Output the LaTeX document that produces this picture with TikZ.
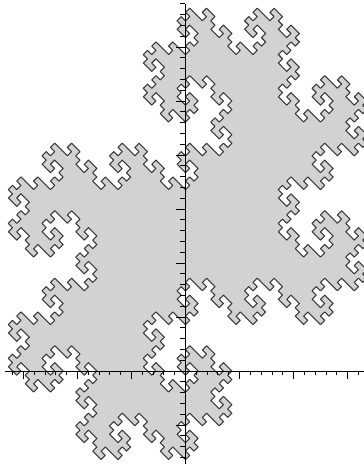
\documentclass[tikz,border=0pt]{standalone}
\definecolor{dcfill}{HTML}{D1D2D4}
\definecolor{dcline}{HTML}{3A3A3C}
\newcount\dcm \newcount\dcn \newcount\dcx \newcount\dcy
\newcount\dcpx \newcount\dcpy \newcount\dctmp
\def\dcBits{%
  \ifnum\dcn>0
    \ifodd\dcn \advance\dcx\dcpx \advance\dcy\dcpy \fi
    \dctmp=\dcpx \advance\dcpx\dcpy \advance\dcpy-\dctmp
    \divide\dcn 2
    \expandafter\dcBits
  \fi}
\def\dcDecode{\dcn=\dcm \dcx=0 \dcy=0 \dcpx=1 \dcpy=0 \dcBits}
\def\dcForAll#1{\dcm=0 \def\dcBody{#1}\dcLoop}
\def\dcLoop{%
  \ifnum\dcm<2048
    \dcDecode \dcBody \advance\dcm 1
    \expandafter\dcLoop
  \fi}
\def\dcIdx#1#2{dc:\the\numexpr#1\relax,\the\numexpr#2\relax}
\dcForAll{\expandafter\gdef\csname\dcIdx{\dcx}{\dcy}\endcsname{}}
\def\dcMove#1#2{\pgfpathmoveto{\pgfqpoint{\the\numexpr#1\relax pt}{\the\numexpr#2\relax pt}}}
\def\dcLine#1#2{\pgfpathlineto{\pgfqpoint{\the\numexpr#1\relax pt}{\the\numexpr#2\relax pt}}}
\def\dcSquare{%
  \dcMove{2*\dcx-1}{2*\dcy-1}\dcLine{2*\dcx+1}{2*\dcy-1}\dcLine{2*\dcx+1}{2*\dcy+1}\dcLine{2*\dcx-1}{2*\dcy+1}\pgfpathclose}
\def\dcEdges{%
  \expandafter\ifx\csname\dcIdx{\dcx+1}{\dcy}\endcsname\relax
    \dcMove{2*\dcx+1}{2*\dcy-1}\dcLine{2*\dcx+1}{2*\dcy+1}\fi
  \expandafter\ifx\csname\dcIdx{\dcx-1}{\dcy}\endcsname\relax
    \dcMove{2*\dcx-1}{2*\dcy-1}\dcLine{2*\dcx-1}{2*\dcy+1}\fi
  \expandafter\ifx\csname\dcIdx{\dcx}{\dcy+1}\endcsname\relax
    \dcMove{2*\dcx-1}{2*\dcy+1}\dcLine{2*\dcx+1}{2*\dcy+1}\fi
  \expandafter\ifx\csname\dcIdx{\dcx}{\dcy-1}\endcsname\relax
    \dcMove{2*\dcx-1}{2*\dcy-1}\dcLine{2*\dcx+1}{2*\dcy-1}\fi}
\tikzset{axisline/.style={black,line width=0.9pt},ticksmall/.style={black,line width=0.8pt}}
\begin{document}
\begin{tikzpicture}[x=1pt,y=1pt]
\useasboundingbox (-185.5,-95) rectangle (178.5,371);
\begin{scope}[cm={-2.109375,2.109375,-2.109375,-2.109375,(0,0)}]
  \pgfsetfillcolor{dcfill}
  \dcForAll{\dcSquare}\pgfusepath{fill}
  \pgfsetstrokecolor{dcline}\pgfsetlinewidth{1.1pt}\pgfsetroundcap\pgfsetroundjoin
  \dcForAll{\dcEdges}\pgfusepath{stroke}
\end{scope}
\draw[axisline] (0,-93) -- (0,367.2);
\draw[axisline] (-180.5,0) -- (178.5,0);
\foreach \k in {-8,...,34}{
  \pgfmathtruncatemacro{\r}{mod(abs(\k),5)}
  \ifnum\r=0 \draw[ticksmall] (-9,{\k*10.8}) -- (0,{\k*10.8});
  \else \draw[ticksmall] (-5,{\k*10.8}) -- (0,{\k*10.8}); \fi
}
\foreach \k in {-16,...,16}{
  \pgfmathtruncatemacro{\r}{mod(abs(\k),5)}
  \ifnum\r=0 \draw[ticksmall] ({\k*10.8},-7.5) -- ({\k*10.8},0);
  \else \draw[ticksmall] ({\k*10.8},-3.5) -- ({\k*10.8},0); \fi
}
\end{tikzpicture}
\end{document}
